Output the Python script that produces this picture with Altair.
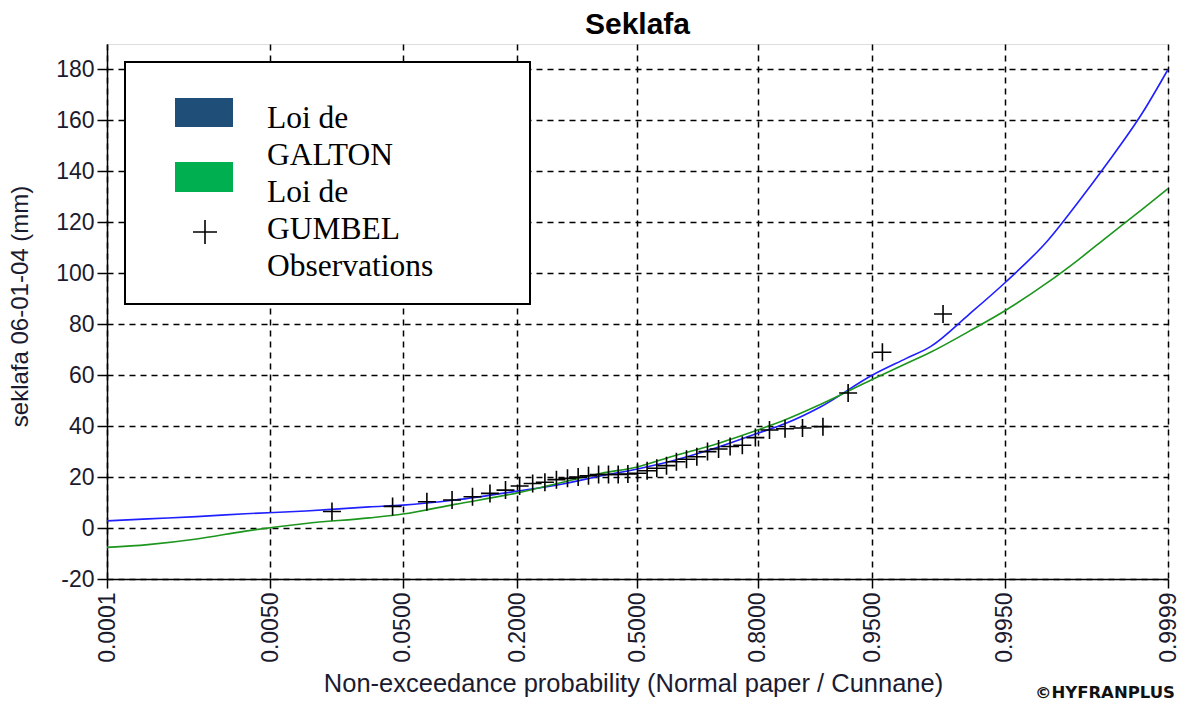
import altair as alt
import pandas as pd
from statistics import NormalDist

std_normal = NormalDist()

# Fitted quantile curves (mm) at selected non-exceedance probabilities
curve_p = [0.0001, 0.0003, 0.001, 0.003, 0.01, 0.03, 0.05, 0.1, 0.2, 0.3, 0.4,
           0.5, 0.6, 0.7, 0.8, 0.85, 0.9, 0.95, 0.97, 0.98, 0.99, 0.995,
           0.998, 0.999, 0.9995, 0.9998, 0.9999]
galton_mm = [2.8, 3.6, 4.5, 5.6, 6.7, 8.3, 9.0, 11.0, 14.5, 17.3, 20.5,
             23.2, 26.5, 31.0, 37.2, 41.0, 47.5, 60.0, 66.5, 71.2, 84.0, 96.3,
             113.0, 128.0, 143.0, 163.0, 180.0]
gumbel_mm = [-7.6, -6.5, -4.3, -1.2, 1.8, 4.0, 5.5, 9.3, 13.8, 18.0, 21.5,
             24.0, 28.3, 32.5, 38.5, 42.5, 48.5, 58.3, 64.5, 69.0, 77.3, 85.3,
             96.5, 105.3, 114.2, 125.2, 133.2]

# Observed maxima (Cunnane plotting positions, n = 37)
obs_p = [0.0161, 0.0430, 0.0699, 0.0968, 0.1237, 0.1505, 0.1774, 0.2043,
         0.2312, 0.2581, 0.2849, 0.3118, 0.3387, 0.3656, 0.3925, 0.4194,
         0.4462, 0.4731, 0.5000, 0.5269, 0.5538, 0.5806, 0.6075, 0.6344,
         0.6613, 0.6882, 0.7151, 0.7419, 0.7688, 0.7957, 0.8226, 0.8495,
         0.8763, 0.9032, 0.9301, 0.9570, 0.9839]
obs_mm = [6.5, 8.5, 10.3, 11.0, 12.3, 13.6, 14.9, 16.5, 17.5, 18.0, 19.0,
          19.5, 20.0, 20.5, 21.0, 21.0, 21.0, 21.2, 21.5, 22.5, 23.5, 24.5,
          26.0, 27.0, 28.0, 30.0, 31.0, 32.0, 32.5, 35.5, 38.5, 39.0, 39.3,
          39.8, 53.0, 69.0, 84.0]

tick_p = [0.0001, 0.005, 0.05, 0.2, 0.5, 0.8, 0.95, 0.995, 0.9999]

series_names = ["Loi de GALTON", "Loi de GUMBEL"]
series_colors = ["#1f1fff", "#1c961c"]

z = std_normal.inv_cdf
curves = pd.DataFrame(
    [{"z": z(p), "mm": v, "loi": series_names[0]} for p, v in zip(curve_p, galton_mm)]
    + [{"z": z(p), "mm": v, "loi": series_names[1]} for p, v in zip(curve_p, gumbel_mm)]
)
obs = pd.DataFrame({"z": [z(p) for p in obs_p], "mm": obs_mm})

tick_z = [z(p) for p in tick_p]
x_dom = [z(0.0001), z(0.9999)]

FONT = "Liberation Sans"
TXT = "#1b1b30"

x_axis = alt.Axis(
    values=tick_z,
    labelExpr="format(cumulativeNormal(datum.value), '.4f')",
    labelAngle=270,
    labelFont=FONT, labelFontSize=23, labelColor=TXT, labelPadding=4,
    tickSize=9, tickColor="black", tickWidth=1.5,
    grid=True, gridColor="black", gridDash=[6, 5], gridWidth=1.5,
    domainColor="black", domainWidth=1.5,
    title="Non-exceedance probability (Normal paper / Cunnane)",
    titleFont=FONT, titleFontSize=25.5, titleFontWeight="normal", titleColor=TXT,
    titleX=526, titleY=104, titleBaseline="middle", titleAnchor="middle",
)

y_axis = alt.Axis(
    values=list(range(-20, 190, 10)),
    labelExpr="datum.value % 20 === 0 ? '' + datum.value : ''",
    labelFont=FONT, labelFontSize=23, labelColor=TXT, labelPadding=3,
    tickSize={"condition": {"test": "datum.value % 20 === 0", "value": 10}, "value": 6},
    tickColor="black", tickWidth=1.5,
    grid=True, gridColor="black", gridDash=[6, 5], gridWidth=1.5,
    gridOpacity={"condition": {"test": "datum.value % 20 === 0", "value": 1}, "value": 0},
    domainColor="black", domainWidth=1.5,
    title="seklafa 06-01-04 (mm)",
    titleFont=FONT, titleFontSize=24, titleFontWeight="normal", titleColor=TXT,
    titleX=-87, titleY=262, titleBaseline="middle", titleAngle=270,
)

x_enc = alt.X("z:Q", scale=alt.Scale(domain=x_dom, nice=False, zero=False), axis=x_axis)
y_enc = alt.Y("mm:Q", scale=alt.Scale(domain=[-20, 190], nice=False, zero=False), axis=y_axis)

lines = alt.Chart(curves).mark_line(strokeWidth=1.6, interpolate="monotone").encode(
    x=x_enc,
    y=y_enc,
    color=alt.Color("loi:N", scale=alt.Scale(domain=series_names, range=series_colors), legend=None),
    detail="loi:N",
)

PLUS = "M-1,0L1,0M0,-1L0,1"
points = alt.Chart(obs).mark_point(
    shape=PLUS, size=324, filled=False, color="black", strokeWidth=1.6, opacity=1
).encode(x="z:Q", y="mm:Q")

one = alt.Data(values=[{}])

# Legend panel drawn inside the plot area
legend_box = alt.Chart(one).mark_rect(fill="white", stroke="black", strokeWidth=2).encode(
    x=alt.value(18), x2=alt.value(423), y=alt.value(18), y2=alt.value(260)
)
swatch_galton = alt.Chart(one).mark_rect(fill="#1f4e79").encode(
    x=alt.value(68), x2=alt.value(126), y=alt.value(54), y2=alt.value(83)
)
swatch_gumbel = alt.Chart(one).mark_rect(fill="#00b050").encode(
    x=alt.value(68), x2=alt.value(126), y=alt.value(118), y2=alt.value(148)
)
legend_plus = alt.Chart(one).mark_point(
    shape=PLUS, size=576, filled=False, color="black", strokeWidth=1.6, opacity=1
).encode(x=alt.value(98), y=alt.value(188))
legend_text = alt.Chart(one).mark_text(
    text="Loi de\nGALTON\nLoi de\nGUMBEL\nObservations",
    lineBreak="\n", lineHeight=37, align="left", baseline="middle",
    font="Liberation Serif", fontSize=31.5, color="black",
).encode(x=alt.value(160), y=alt.value(75))

credit = alt.Chart(one).mark_text(
    text="\u00a9HYFRANPLUS", align="right", baseline="middle",
    font="DejaVu Sans", fontSize=16.5, fontWeight="bold", color="#111",
).encode(x=alt.value(1068), y=alt.value(649))

chart = alt.layer(
    lines, points, legend_box, swatch_galton, swatch_gumbel, legend_plus, legend_text, credit
).properties(
    width=1061,
    height=535,
    title=alt.TitleParams(
        "Seklafa", font=FONT, fontSize=30, fontWeight="bold", color="black",
        anchor="middle", offset=4,
    ),
    autosize=alt.AutoSizeParams(type="none"),
    padding={"left": 107, "top": 44, "right": 17, "bottom": 127},
).configure_view(
    stroke="black", strokeWidth=1.5
).configure(background="white")

chart.save("out.html", embed_options={"renderer": "svg", "actions": False})
